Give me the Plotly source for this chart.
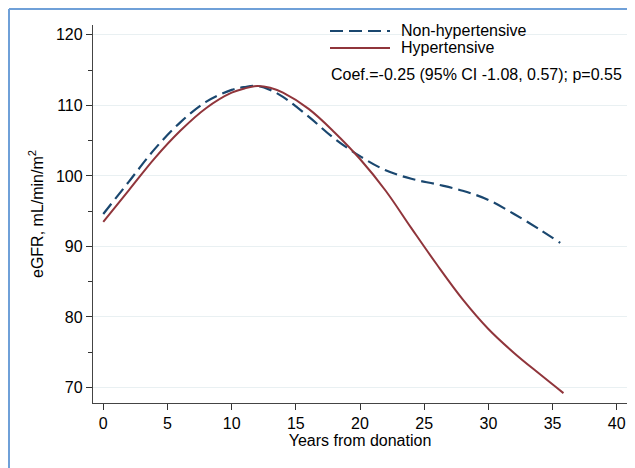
import plotly.graph_objects as go

# Data
years_non = [0, 2, 4, 6, 8, 10, 11, 12, 13, 14, 16, 18, 20, 22, 24, 26, 28, 30, 32, 34, 35.6]
egfr_non = [94.6, 99.2, 103.8, 107.6, 110.5, 112.2, 112.6, 112.75, 112.2, 111.2, 108.4,
            105.3, 102.8, 100.8, 99.6, 98.8, 97.9, 96.6, 94.6, 92.4, 90.5]
years_hyp = [0, 2, 4, 6, 8, 10, 11, 12, 13, 14, 16, 18, 20, 22, 24, 26, 28, 30, 32, 34, 35.85]
egfr_hyp = [93.5, 98.0, 102.5, 106.4, 109.6, 111.8, 112.4, 112.75, 112.5, 111.8, 109.5,
            106.2, 102.4, 97.9, 92.6, 87.4, 82.5, 78.3, 74.9, 71.9, 69.2]

x_ticks = [0, 5, 10, 15, 20, 25, 30, 35, 40]
y_ticks = [70, 80, 90, 100, 110, 120]
series_names = ["Non-hypertensive", "Hypertensive"]
series_colors = ["#1a476f", "#90353b"]
series_dash = ["13px,6px", "solid"]
note_text = "Coef.=-0.25 (95% CI -1.08, 0.57); p=0.55"

FONT = "Liberation Sans, Arial, sans-serif"

# page body has an 8px margin, so figure pixel = screen pixel - 8
OFF = 8
FW, FH = 635, 468
# plot area geometry in screen pixels
L, R, T, B = 93, 627, 25, 403
W, H = R - L, B - T


def px(xs):
    return (xs - L) / W


def py(ys):
    return 1 - (ys - T) / H


fig = go.Figure()
fig.add_trace(go.Scatter(x=years_non, y=egfr_non, mode="lines", name=series_names[0],
                         showlegend=False,
                         line=dict(color=series_colors[0], width=2.2, dash=series_dash[0],
                                   shape="spline", smoothing=1.0)))
fig.add_trace(go.Scatter(x=years_hyp, y=egfr_hyp, mode="lines", name=series_names[1],
                         showlegend=False,
                         line=dict(color=series_colors[1], width=2, dash=series_dash[1],
                                   shape="spline", smoothing=1.0)))

# manual legend (line samples + labels)
shapes = []
annotations = []
for i, (nm, col, dsh) in enumerate(zip(series_names, series_colors, series_dash)):
    yy = 31 + 17 * i
    shapes.append(dict(type="line", xref="paper", yref="paper", x0=px(330), x1=px(390),
                       y0=py(yy), y1=py(yy), line=dict(color=col, width=2.2, dash=dsh)))
    annotations.append(dict(text=nm, xref="paper", yref="paper", x=px(399), y=py(yy),
                            xanchor="left", yanchor="middle", showarrow=False,
                            font=dict(size=16, family=FONT)))
annotations.append(dict(text=note_text, xref="paper", yref="paper",
                        x=px(329), y=py(74), xanchor="left", yanchor="middle",
                        showarrow=False, font=dict(size=16, family=FONT)))

# outer frame (light blue, left & top) at the figure edge
shapes.append(dict(type="line", xref="paper", yref="paper", x0=px(OFF + 1), x1=px(700),
                   y0=py(OFF + 1), y1=py(OFF + 1), line=dict(color="#6fa0d8", width=2)))
shapes.append(dict(type="line", xref="paper", yref="paper", x0=px(OFF + 1), x1=px(OFF + 1),
                   y0=py(OFF + 1), y1=py(500), line=dict(color="#6fa0d8", width=2)))

fig.update_layout(
    width=FW, height=FH,
    margin=dict(l=L - OFF, r=FW - (R - OFF), t=T - OFF, b=FH - (B - OFF), autoexpand=False),
    paper_bgcolor="white", plot_bgcolor="white",
    font=dict(family=FONT, color="#000000"),
    showlegend=False,
    xaxis=dict(range=[-0.8, 40.8], tickvals=x_ticks, ticks="outside", ticklen=6,
               tickcolor="#333", showline=True, linecolor="#444", linewidth=1.3,
               showgrid=False, zeroline=False, tickfont=dict(size=16), automargin=False,
               title=dict(text="Years from donation", font=dict(size=16), standoff=2)),
    yaxis=dict(range=[67.8, 121.4], tickvals=y_ticks, ticks="outside", ticklen=6,
               tickcolor="#333", showline=True, linecolor="#444", linewidth=1.3,
               showgrid=True, gridcolor="#e9f0f2", gridwidth=1, zeroline=False,
               tickfont=dict(size=16), automargin=False,
               minor=dict(tickvals=[75, 85, 95, 105, 115], ticks="outside", ticklen=4,
                          tickcolor="#333", showgrid=False),
               title=dict(text="eGFR, mL/min/m<sup>2</sup>", font=dict(size=16), standoff=8)),
    annotations=annotations,
    shapes=shapes,
)

fig.write_html("out.html")
